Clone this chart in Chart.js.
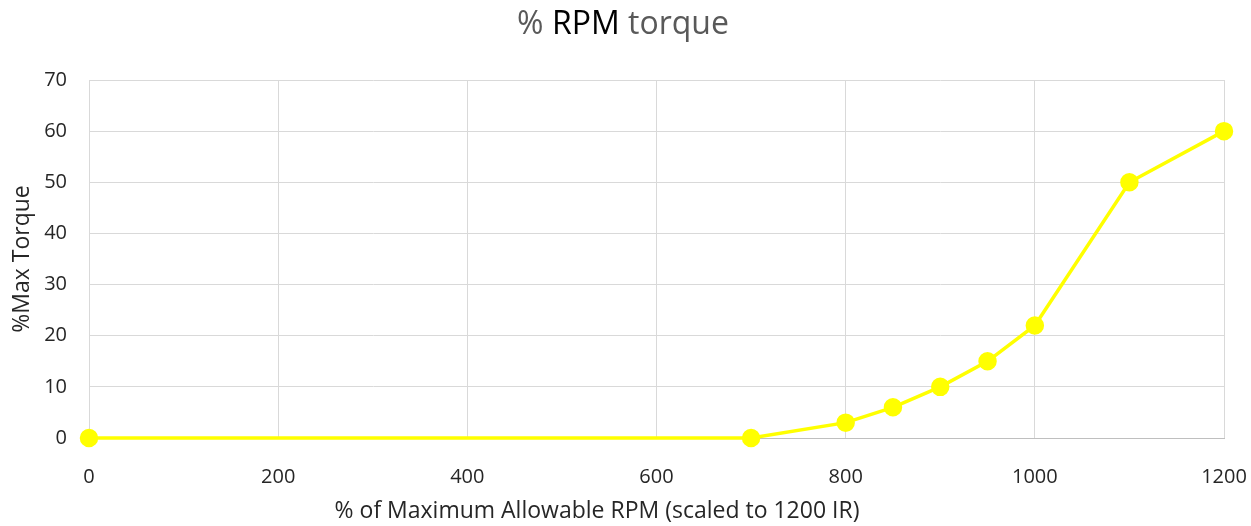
<!DOCTYPE html>
<html>
<head>
<meta charset="utf-8">
<script src="https://cdn.jsdelivr.net/npm/chart.js@4"></script>
<style>
    html, body { margin: 0; padding: 0; background: #ffffff; }
    #wrap { width: 1251px; height: 526px; }
</style>
</head>
<body>
<div id="wrap"><canvas id="torque-chart" width="1251" height="526"></canvas></div>
<script>
// ===================================
// Chart data
// ===================================
const rpmValues = [0, 700, 800, 850, 900, 950, 1000, 1100, 1200];
const torqueValues = [0, 0, 3, 6, 10, 15, 22, 50, 60];
const xTicks = [0, 200, 400, 600, 800, 1000, 1200];
const yTicks = [0, 10, 20, 30, 40, 50, 60, 70];

const titleParts = [
    { text: '% ', color: '#595959' },
    { text: 'RPM', color: '#000000' },
    { text: ' torque', color: '#595959' }
];
const xTitle = '% of Maximum Allowable RPM (scaled to 1200 IR)';
const yTitle = '%Max Torque';

const FONT = '"Open Sans", "DejaVu Sans", sans-serif';

// Draws the chart title (mixed colours) and the axis titles
const titlesPlugin = {
    id: 'titles',
    afterDraw(chart) {
        const ctx = chart.ctx;
        ctx.save();
        ctx.textBaseline = 'middle';

        // Chart title
        ctx.font = '32px ' + FONT;
        const total = titleParts.reduce((w, p) => w + ctx.measureText(p.text).width, 0);
        let x = 623 - total / 2;
        titleParts.forEach(p => {
            ctx.fillStyle = p.color;
            ctx.textAlign = 'left';
            ctx.fillText(p.text, x, 25);
            x += ctx.measureText(p.text).width;
        });

        // X axis title
        ctx.font = '23px ' + FONT;
        ctx.fillStyle = '#262626';
        ctx.textAlign = 'center';
        ctx.fillText(xTitle, 597, 511);

        // Y axis title
        ctx.translate(22, 259);
        ctx.rotate(-Math.PI / 2);
        ctx.fillText(yTitle, 0, 0);
        ctx.restore();
    }
};

const ctx = document.getElementById('torque-chart').getContext('2d');

new Chart(ctx, {
    type: 'line',
    data: {
        datasets: [{
            data: rpmValues.map((r, i) => ({ x: r, y: torqueValues[i] })),
            borderColor: '#FFFF00',
            backgroundColor: '#FFFF00',
            pointBackgroundColor: '#FFFF00',
            pointBorderColor: '#FFFF00',
            borderWidth: 3.5,
            pointRadius: 7.5,
            pointHoverRadius: 7.5,
            tension: 0,
            clip: false
        }]
    },
    options: {
        responsive: false,
        animation: false,
        layout: {
            padding: { top: 80, right: 27, bottom: 0, left: 0 }
        },
        plugins: {
            legend: { display: false },
            tooltip: { enabled: false },
            title: { display: false }
        },
        scales: {
            x: {
                type: 'linear',
                min: 0,
                max: 1200,
                afterBuildTicks: (scale) => {
                    scale.ticks = xTicks.map(v => ({ value: v }));
                },
                afterFit: (scale) => {
                    scale.height = 88;
                    // keep the plot edges fixed; the layout padding leaves room for the labels
                    scale.paddingLeft = 0;
                    scale.paddingRight = 0;
                },
                grid: { color: '#d9d9d9', lineWidth: 1, drawTicks: false },
                border: { color: '#bfbfbf', width: 1 },
                ticks: {
                    padding: 27,
                    color: '#262626',
                    font: { family: FONT, size: 20 },
                    callback: (value) => String(value)
                }
            },
            y: {
                min: 0,
                max: 70,
                afterBuildTicks: (scale) => {
                    scale.ticks = yTicks.map(v => ({ value: v }));
                },
                afterFit: (scale) => { scale.width = 89; },
                grid: { color: '#d9d9d9', lineWidth: 1, drawTicks: false },
                border: { color: '#d9d9d9', width: 1 },
                ticks: {
                    padding: 22,
                    color: '#262626',
                    font: { family: FONT, size: 20 },
                    callback: (value) => String(value)
                }
            }
        }
    },
    plugins: [titlesPlugin]
});
</script>
</body>
</html>
